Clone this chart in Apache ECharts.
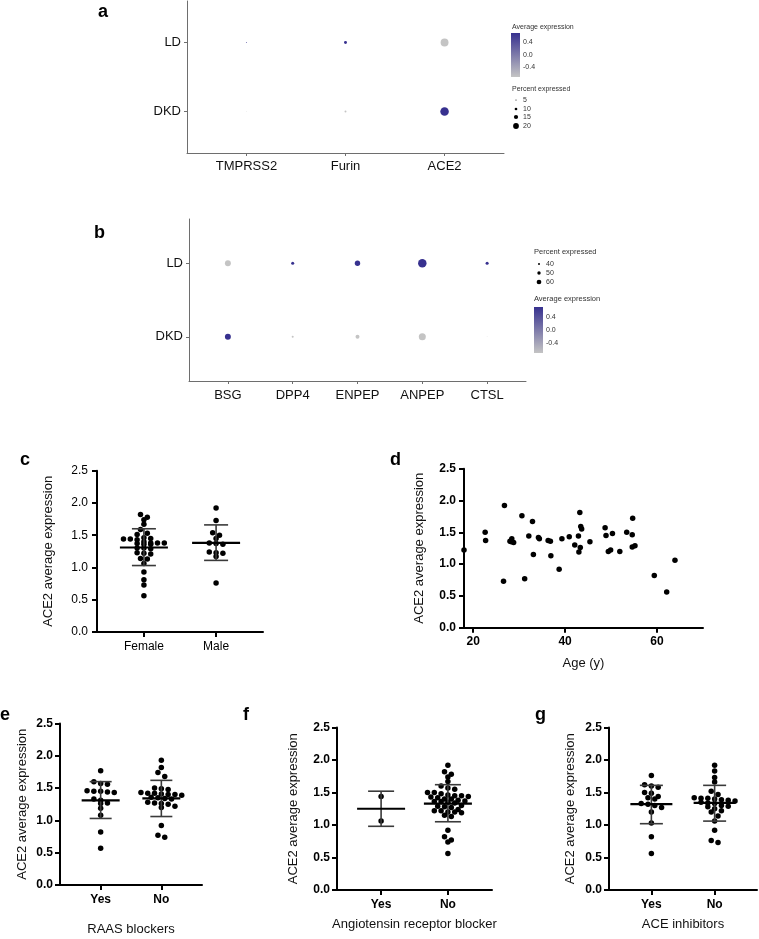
<!DOCTYPE html>
<html>
<head>
<meta charset="utf-8">
<title>ACE2 expression</title>
<script src="https://cdn.jsdelivr.net/npm/echarts@6/dist/echarts.min.js"></script>
<style>
  html, body { margin: 0; padding: 0; background: #fff; }
  #chart { width: 759px; height: 939px; }
</style>
</head>
<body>
<div id="chart"></div>
<script>
// dot plot a
const rowNames = ['DKD', 'LD']
const genesA = ['TMPRSS2', 'Furin', 'ACE2']
const pctA_LD = [3.6, 8.5, 20.5]
const pctA_DKD = [2.4, 6, 22]
const avgA_LD = [0.707, 0.707, -0.707]
const avgA_DKD = [-0.707, -0.707, 0.707]
const legendPctA = [5, 10, 15, 20]

// dot plot b
const genesB = ['BSG', 'DPP4', 'ENPEP', 'ANPEP', 'CTSL']
const pctB_LD = [58, 42, 55, 72, 42]
const pctB_DKD = [58, 36, 47, 64, 28]
const avgB_LD = [-0.707, 0.707, 0.707, 0.707, 0.707]
const avgB_DKD = [0.707, -0.707, -0.707, -0.707, -0.707]
const legendPctB = [40, 50, 60]
const avgTicks = [0.4, 0.0, -0.4]

// c: sex
const sexNames = ['Female', 'Male']
const femaleVals = [1.82, 1.78, 1.74, 1.67, 1.59, 1.53, 1.51, 1.46, 1.45, 1.44, 1.44, 1.43, 1.40, 1.38, 1.38, 1.38,
  1.37, 1.36, 1.36, 1.30, 1.30, 1.29, 1.23, 1.22, 1.21, 1.14, 1.13, 1.06, 0.93, 0.81, 0.73, 0.56]
const maleVals = [1.92, 1.73, 1.54, 1.50, 1.45, 1.38, 1.37, 1.36, 1.24, 1.23, 1.22, 1.17, 0.76]
const statsC = [[1.31, 1.03, 1.60], [1.38, 1.11, 1.66]]

// d: age
const ages = [18.0, 22.6, 22.7, 26.6, 26.8, 28.0, 28.3, 28.4, 28.8, 30.6, 31.2, 32.1, 32.9, 33.1, 34.2, 34.4,
  36.3, 36.8, 36.9, 38.7, 39.3, 40.9, 42.1, 42.9, 43.0, 43.2, 43.3, 43.4, 43.6, 45.4, 48.7, 48.9, 49.4, 49.9,
  50.3, 51.9, 53.4, 54.6, 54.6, 54.7, 55.2, 59.4, 62.1, 63.9]
const ageExpr = [1.22, 1.50, 1.37, 0.73, 1.92, 1.36, 1.35, 1.40, 1.34, 1.76, 0.77, 1.44, 1.67, 1.15, 1.42, 1.40,
  1.37, 1.36, 1.13, 0.92, 1.40, 1.43, 1.30, 1.44, 1.19, 1.81, 1.26, 1.59, 1.55, 1.35, 1.57, 1.45, 1.20, 1.22,
  1.48, 1.20, 1.50, 1.46, 1.27, 1.72, 1.29, 0.82, 0.56, 1.06]
const ageTicks = [20, 40, 60]

// e, f, g: treatments
const yesNo = ['Yes', 'No']
const raasYes = [1.77, 1.60, 1.57, 1.56, 1.46, 1.45, 1.45, 1.44, 1.43, 1.33, 1.31, 1.27, 1.26, 1.19, 1.08, 0.82, 0.57]
const raasNo = [1.93, 1.82, 1.74, 1.68, 1.50, 1.49, 1.48, 1.43, 1.42, 1.42, 1.41, 1.40, 1.40, 1.39, 1.36, 1.35,
  1.34, 1.33, 1.28, 1.27, 1.26, 1.25, 1.22, 1.20, 0.92, 0.77, 0.74]
const statsE = [[1.31, 1.03, 1.60], [1.34, 1.06, 1.62]]
const arbYes = [1.44, 1.06]
const arbNo = [1.92, 1.82, 1.78, 1.74, 1.67, 1.60, 1.57, 1.55, 1.50, 1.50, 1.48, 1.46, 1.45, 1.45, 1.44, 1.43,
  1.42, 1.40, 1.40, 1.38, 1.37, 1.36, 1.36, 1.35, 1.34, 1.30, 1.29, 1.28, 1.27, 1.24, 1.22, 1.22, 1.20, 1.20,
  1.19, 1.15, 1.13, 0.92, 0.82, 0.77, 0.74, 0.56]
const statsF = [[1.25, 0.98, 1.52], [1.33, 1.05, 1.62]]
const aceiYes = [1.76, 1.62, 1.60, 1.58, 1.50, 1.49, 1.44, 1.42, 1.40, 1.33, 1.32, 1.30, 1.27, 1.20, 1.03, 0.82, 0.56]
const aceiNo = [1.92, 1.83, 1.73, 1.66, 1.52, 1.47, 1.42, 1.41, 1.41, 1.40, 1.39, 1.38, 1.37, 1.35, 1.34, 1.33,
  1.30, 1.29, 1.28, 1.25, 1.22, 1.20, 1.14, 1.06, 0.92, 0.76, 0.73]
const statsG = [[1.32, 1.02, 1.61], [1.34, 1.06, 1.61]]

const FONT = 'Liberation Sans, Arial, Helvetica, sans-serif'
const GREY = '#c4c4c4'
const BLUE = '#37318f'

const sizeA = (p) => Math.max(0.6, 0.41 * p - 0.5)
const sizeB = (p) => Math.max(0.6, 0.18 * (p - 25))

const chart = echarts.init(document.getElementById('chart'), null, { renderer: 'canvas' })

function dotData(genes, pctLD, pctDKD, avgLD, avgDKD) {
  const out = []
  genes.forEach((g, i) => {
    out.push([i + 1, 2, pctLD[i], avgLD[i]])
    out.push([i + 1, 1, pctDKD[i], avgDKD[i]])
  })
  return out
}

// prism-like rows: values close together sit side by side
function swarm(vals, center, step, binH) {
  const sorted = vals.slice().sort((a, b) => b - a)
  const out = []
  let i = 0
  while (i < sorted.length) {
    let j = i
    while (j < sorted.length && sorted[i] - sorted[j] < binH) j++
    const n = j - i
    for (let k = 0; k < n; k++) {
      out.push([center + (k - (n - 1) / 2) * step, sorted[i + k]])
    }
    i = j
  }
  return out
}

function errorBars(meanHalf, capHalf) {
  return function (params, api) {
    const x = api.value(0)
    const pm = api.coord([x, api.value(1)])
    const pl = api.coord([x, api.value(2)])
    const ph = api.coord([x, api.value(3)])
    const sd = { stroke: '#3a3a3a', lineWidth: 1.6 }
    return {
      type: 'group',
      children: [
        { type: 'line', shape: { x1: pl[0], y1: pl[1], x2: ph[0], y2: ph[1] }, style: sd },
        { type: 'line', shape: { x1: pl[0] - capHalf, y1: pl[1], x2: pl[0] + capHalf, y2: pl[1] }, style: sd },
        { type: 'line', shape: { x1: ph[0] - capHalf, y1: ph[1], x2: ph[0] + capHalf, y2: ph[1] }, style: sd },
        { type: 'line', shape: { x1: pm[0] - meanHalf, y1: pm[1], x2: pm[0] + meanHalf, y2: pm[1] }, style: { stroke: '#000', lineWidth: 2.2 } }
      ]
    }
  }
}

function statsData(stats) {
  return stats.map((s, i) => [i + 1, s[0], s[1], s[2]])
}

function geneXAxis(gi, names, margin) {
  return {
    type: 'value', gridIndex: gi, min: 0.4, max: names.length + 0.6,
    axisLine: { onZero: false, lineStyle: { color: '#6e6e6e', width: 1 } },
    axisTick: { customValues: names.map((n, i) => i + 1), length: 3, lineStyle: { color: '#6e6e6e' } },
    axisLabel: { customValues: names.map((n, i) => i + 1), formatter: (v) => names[Math.round(v) - 1],
      color: '#111', fontSize: 13, fontFamily: FONT, margin: margin },
    splitLine: { show: false }
  }
}

function rowYAxis(gi) {
  return {
    type: 'value', gridIndex: gi, min: 0.4, max: 2.6,
    axisLine: { onZero: false, lineStyle: { color: '#6e6e6e', width: 1 } },
    axisTick: { customValues: [1, 2], length: 3, lineStyle: { color: '#6e6e6e' } },
    axisLabel: { customValues: [1, 2], formatter: (v) => rowNames[Math.round(v) - 1],
      color: '#111', fontSize: 13, fontFamily: FONT, margin: 6 },
    splitLine: { show: false }
  }
}

function groupXAxis(gi, names, min, max, bold, title, titleGap) {
  return {
    type: 'value', gridIndex: gi, min: min, max: max,
    name: title, nameLocation: 'middle', nameGap: titleGap,
    nameTextStyle: { fontSize: 13, fontFamily: FONT, color: '#111' },
    axisLine: { onZero: false, lineStyle: { color: '#000', width: 2 } },
    axisTick: { customValues: [1, 2], length: 5, lineStyle: { color: '#000', width: 2 } },
    axisLabel: { customValues: [1, 2], formatter: (v) => names[Math.round(v) - 1], color: '#000',
      fontSize: 12, fontWeight: bold ? 'bold' : 'normal', fontFamily: FONT, margin: 9 },
    splitLine: { show: false }
  }
}

function exprYAxis(gi, bold, titleGap, labelMargin) {
  return {
    type: 'value', gridIndex: gi, min: 0, max: 2.5, interval: 0.5,
    name: 'ACE2 average expression', nameLocation: 'middle', nameGap: titleGap, nameRotate: 90,
    nameTextStyle: { fontSize: 13, fontFamily: FONT, color: '#111' },
    axisLine: { lineStyle: { color: '#000', width: 2 } },
    axisTick: { length: 5, lineStyle: { color: '#000', width: 2 } },
    axisLabel: { formatter: (v) => v.toFixed(1), color: '#000', fontSize: 12,
      fontWeight: bold ? 'bold' : 'normal', fontFamily: FONT, margin: labelMargin },
    splitLine: { show: false }
  }
}

function dots(gi, data) {
  return { type: 'scatter', xAxisIndex: gi, yAxisIndex: gi, data: data, symbolSize: 5.5,
    itemStyle: { color: '#000', opacity: 1 }, z: 2, silent: true }
}

function bars(gi, stats, meanHalf, capHalf) {
  return { type: 'custom', xAxisIndex: gi, yAxisIndex: gi, data: statsData(stats),
    renderItem: errorBars(meanHalf, capHalf), z: 3, silent: true, clip: false }
}

const gridBox = [
  { left: 187, top: 1, width: 317, height: 152 },
  { left: 189, top: 219, width: 337, height: 162 },
  { left: 97, top: 470.7, width: 166, height: 161.3 },
  { left: 464, top: 468.7, width: 239, height: 159 },
  { left: 60, top: 723.5, width: 142, height: 161.5 },
  { left: 337, top: 727.5, width: 155, height: 162.5 },
  { left: 609, top: 727.5, width: 148, height: 162.5 }
]

const step = (gi, min, max) => 6.8 / (gridBox[gi].width / (max - min))
const binH = (gi) => 4.2 / (gridBox[gi].height / 2.5)

const dataC = swarm(femaleVals, 1, step(2, 0.35, 2.65), binH(2)).concat(swarm(maleVals, 2, step(2, 0.35, 2.65), binH(2)))
const dataE = swarm(raasYes, 1, step(4, 0.33, 2.67), binH(4)).concat(swarm(raasNo, 2, step(4, 0.33, 2.67), binH(4)))
const dataF = swarm(arbYes, 1, step(5, 0.34, 2.66), binH(5)).concat(swarm(arbNo, 2, step(5, 0.34, 2.66), binH(5)))
const dataG = swarm(aceiYes, 1, step(6, 0.33, 2.67), binH(6)).concat(swarm(aceiNo, 2, step(6, 0.33, 2.67), binH(6)))
const dataD = ages.map((a, i) => [a, ageExpr[i]])

function label(text, x, y, size, weight, color) {
  return { type: 'text', silent: true,
    style: { text: text, x: x, y: y, fontSize: size, fontWeight: weight || 'normal', fontFamily: FONT,
      fill: color || '#111', align: 'left', verticalAlign: 'middle' } }
}

function colorBar(x, y, h, labelX) {
  const items = [{
    type: 'rect', silent: true, shape: { x: x, y: y, width: 9, height: h },
    style: { fill: new echarts.graphic.LinearGradient(0, 0, 0, 1, [{ offset: 0, color: BLUE }, { offset: 1, color: GREY }]) }
  }]
  avgTicks.forEach((t) => {
    const ty = y + h / 2 - (t / 0.707) * (h / 2)
    items.push(label(t.toFixed(1), labelX, ty, 7, 'normal', '#333'))
  })
  return items
}

function sizeKey(pcts, sizeFn, x, ys, labelX) {
  const items = []
  pcts.forEach((p, i) => {
    items.push({ type: 'circle', silent: true, shape: { cx: x, cy: ys[i], r: sizeFn(p) * 0.75 / 2 }, style: { fill: '#000' } })
    items.push(label(String(p), labelX, ys[i], 7, 'normal', '#333'))
  })
  return items
}

const graphics = [
  label('a', 98, 12, 18, 'bold', '#000'),
  label('b', 94, 233, 18, 'bold', '#000'),
  label('c', 20, 460, 18, 'bold', '#000'),
  label('d', 390, 460, 18, 'bold', '#000'),
  label('e', 0, 715, 18, 'bold', '#000'),
  label('f', 243, 715, 18, 'bold', '#000'),
  label('g', 535, 715, 18, 'bold', '#000'),
  label('Average expression', 512, 27, 7, 'normal', '#333'),
  label('Percent expressed', 512, 89, 7, 'normal', '#333'),
  label('Percent expressed', 534, 252, 7.5, 'normal', '#333'),
  label('Average expression', 534, 299, 7.5, 'normal', '#333')
].concat(colorBar(511, 33, 44, 523))
  .concat(sizeKey(legendPctA, sizeA, 516, [100, 109, 117, 126], 523))
  .concat(sizeKey(legendPctB, sizeB, 539, [264, 273, 282], 546))
  .concat(colorBar(534, 307, 46, 546))

const option = {
  backgroundColor: '#fff',
  animation: false,
  textStyle: { fontFamily: FONT },
  grid: gridBox.map((g) => Object.assign({ outerBoundsMode: 'none', containLabel: false }, g)),
  visualMap: {
    type: 'continuous', show: false, min: -0.707, max: 0.707, dimension: 3, seriesIndex: [0, 1],
    inRange: { color: [GREY, BLUE] }
  },
  xAxis: [
    geneXAxis(0, genesA, 7),
    geneXAxis(1, genesB, 8),
    groupXAxis(2, sexNames, 0.35, 2.65, false, '', 0),
    {
      type: 'value', gridIndex: 3, min: 18, max: 70,
      name: 'Age (y)', nameLocation: 'middle', nameGap: 29,
      nameTextStyle: { fontSize: 13, fontFamily: FONT, color: '#111' },
      axisLine: { onZero: false, lineStyle: { color: '#000', width: 2 } },
      axisTick: { customValues: ageTicks, length: 5, lineStyle: { color: '#000', width: 2 } },
      axisLabel: { customValues: ageTicks, color: '#000', fontSize: 12, fontWeight: 'bold', fontFamily: FONT, margin: 8 },
      splitLine: { show: false }
    },
    groupXAxis(4, yesNo, 0.33, 2.67, true, 'RAAS blockers', 38),
    groupXAxis(5, yesNo, 0.34, 2.66, true, 'Angiotensin receptor blocker', 28),
    groupXAxis(6, yesNo, 0.33, 2.67, true, 'ACE inhibitors', 28)
  ],
  yAxis: [
    rowYAxis(0),
    rowYAxis(1),
    exprYAxis(2, false, 42, 9),
    exprYAxis(3, true, 38, 8),
    exprYAxis(4, true, 31, 7),
    exprYAxis(5, true, 37, 7),
    exprYAxis(6, true, 32, 7)
  ],
  series: [
    { type: 'scatter', xAxisIndex: 0, yAxisIndex: 0, data: dotData(genesA, pctA_LD, pctA_DKD, avgA_LD, avgA_DKD),
      symbolSize: (d) => sizeA(d[2]), itemStyle: { opacity: 1 }, silent: true },
    { type: 'scatter', xAxisIndex: 1, yAxisIndex: 1, data: dotData(genesB, pctB_LD, pctB_DKD, avgB_LD, avgB_DKD),
      symbolSize: (d) => sizeB(d[2]), itemStyle: { opacity: 1 }, silent: true },
    dots(2, dataC), bars(2, statsC, 24, 12),
    dots(3, dataD),
    dots(4, dataE), bars(4, statsE, 19, 11),
    dots(5, dataF), bars(5, statsF, 24, 13),
    dots(6, dataG), bars(6, statsG, 21, 11.5)
  ],
  graphic: graphics
}

chart.setOption(option)
</script>
</body>
</html>
